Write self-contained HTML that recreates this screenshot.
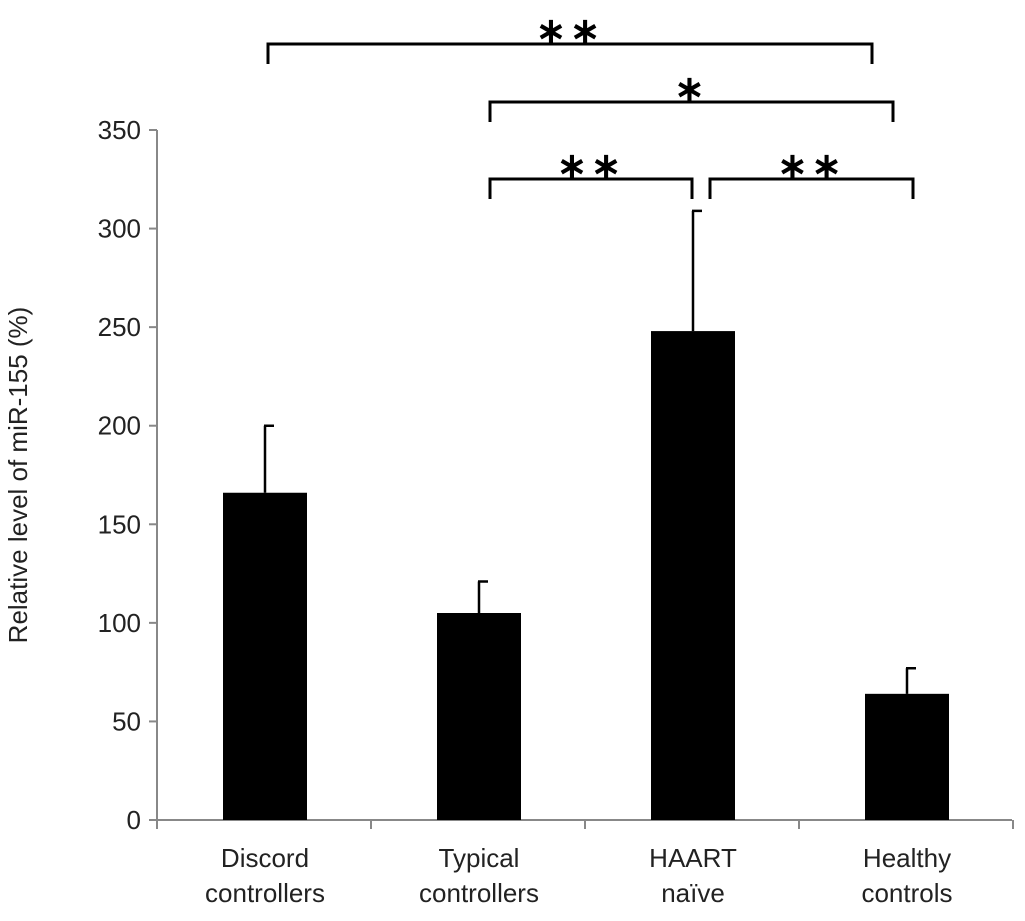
<!DOCTYPE html>
<html><head><meta charset="utf-8"><style>
html,body{margin:0;padding:0;background:#fff;}
svg{display:block;font-family:"Liberation Sans",Arial,sans-serif;}
</style></head><body>
<svg id="chart" width="1025" height="921" viewBox="0 0 1025 921"></svg>
<script>
const categories = [["Discord","controllers"],["Typical","controllers"],["HAART","naïve"],["Healthy","controls"]];
const values = [166, 105, 248, 64];
const errors = [34, 16, 61, 13];
const yTicks = [0,50,100,150,200,250,300,350];
const brackets = [
  {from:0,to:3,label:"∗∗"},
  {from:1,to:3,label:"∗"},
  {from:1,to:2,label:"∗∗"},
  {from:2,to:3,label:"∗∗"}
];

const svg = document.getElementById('chart');
const NS = 'http://www.w3.org/2000/svg';
const x0 = 157, x1 = 1012, yBase = 820, yTop = 130, yMax = 350;
const step = 214, firstCenter = 265, barW = 84;
function y(v){ return yBase - (v / yMax) * (yBase - yTop); }
function xc(i){ return firstCenter + i * step; }
function mk(tag, attrs, parent){
  const e = document.createElementNS(NS, tag);
  for (const k in attrs) e.setAttribute(k, attrs[k]);
  (parent || svg).appendChild(e);
  return e;
}

let el = mk('line',{x1:x0,y1:y(yMax),x2:x0,y2:yBase,stroke:'#888','stroke-width':2});


el = mk('line',{x1:x0,y1:yBase,x2:x1,y2:yBase,stroke:'#888','stroke-width':2});



yTicks.forEach(t=>{
  const tk = mk('line',{x1:x0-8,y1:y(t),x2:x0,y2:y(t),stroke:'#888','stroke-width':2});
  
  
  const lb = mk('text',{x:x0-16,y:y(t)+9,'text-anchor':'end','font-size':26,fill:'#222'});
  lb.textContent = t;
  
  
});
for (let i=0;i<=categories.length;i++){
  const xx = x0 + i*step;
  const tk = mk('line',{x1:xx,y1:yBase,x2:xx,y2:yBase+9,stroke:'#888','stroke-width':2});
  
  
}

const yt = mk('text',{transform:'translate(27,475) rotate(-90)','text-anchor':'middle','font-size':26,fill:'#222'});
yt.textContent = 'Relative level of miR-155 (%)';



values.forEach((v,i)=>{
  const c = xc(i);
  const b = mk('rect',{x:c-barW/2,y:y(v),width:barW,height:yBase-y(v),fill:'#000'});
  
  
  const e = mk('path',{d:`M${c} ${y(v)} V${y(v+errors[i])} M${c-1} ${y(v+errors[i])} H${c+9}`,stroke:'#000','stroke-width':2.5,fill:'none'});
  
  
  categories[i].forEach((ln,j)=>{
    const t = mk('text',{x:c,y:867+j*35,'text-anchor':'middle','font-size':26,fill:'#222'});
    t.textContent = ln;
    
    
  });
});

const bracketLevels = [44,102,179,179];
brackets.forEach((br,k)=>{
  const yy = bracketLevels[k];
  const xa = xc(br.from) + (k===0?3:(k===3?17:11));
  const xb = xc(br.to) + (k===0?-35:(k===1?-14:(k===2?-1:6)));
  const p = mk('path',{d:`M${xa} ${yy+20} V${yy} H${xb} V${yy+20}`,stroke:'#000','stroke-width':3,fill:'none'});
  
  
  const t = mk('text',{x:(xa+xb)/2,y:yy-1,'text-anchor':'middle','font-size':36,'font-weight':'bold',fill:'#000','letter-spacing':4});
  t.textContent = br.label;
  
  
});
</script>
</body></html>
